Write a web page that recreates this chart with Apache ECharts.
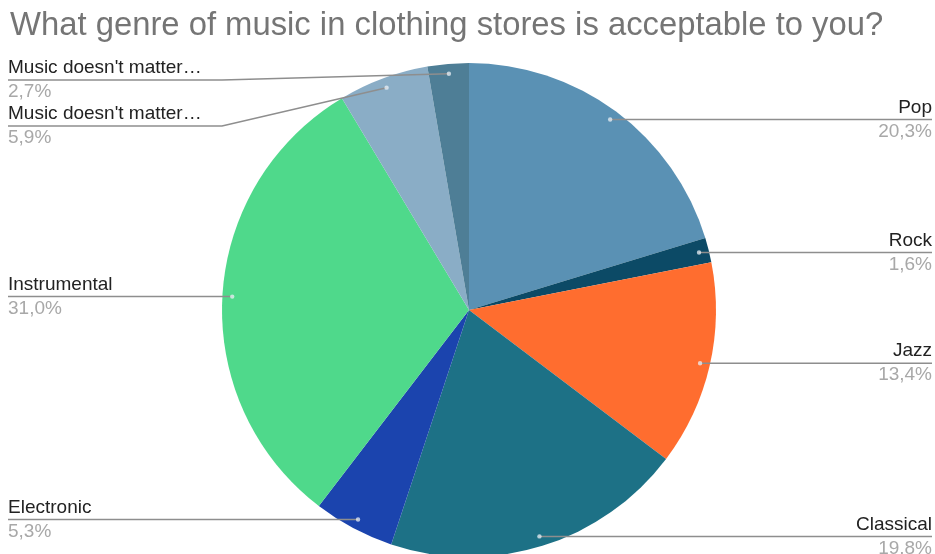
<!DOCTYPE html>
<html>
<head>
<meta charset="utf-8">
<script src="https://cdn.jsdelivr.net/npm/echarts@6/dist/echarts.min.js"></script>
<style>
  html, body { margin: 0; padding: 0; background: #fff; }
  #chart { width: 935px; height: 554px; }
</style>
</head>
<body>
<div id="chart"></div>
<script>
// Survey answers, in clockwise order from 12 o'clock
const genres = ['Pop', 'Rock', 'Jazz', 'Classical', 'Electronic', 'Instrumental', "Music doesn't matter…", "Music doesn't matter…"];
const shares = [20.3, 1.6, 13.4, 19.8, 5.3, 31.0, 5.9, 2.7];
const colors = ['#5a91b4', '#0c4a66', '#ff6d2f', '#1d7186', '#1b44ae', '#4fd98b', '#8aadc6', '#4e7e96'];

const FONT = '"Liberation Sans", Arial, sans-serif';
const chartEl = document.getElementById('chart');
const chart = echarts.init(chartEl, null, { renderer: 'canvas' });
const W = chart.getWidth();

// Pie geometry
const CX = 469, CY = 310, R = 247;
const DOT_K = 0.96;          // leader line starts just inside the slice rim
const EDGE_L = 8, EDGE_R = W - 3;
const BLOCK = 46;            // vertical room taken by one two-line label
const MIN_Y = 80;            // keep labels clear of the title

// Leader-line anchor for each slice, then push left-side labels apart
const total = shares.reduce((a, b) => a + b, 0);
let cum = 0;
const anchors = shares.map((v) => {
  const theta = (cum + v / 2) / total * 2 * Math.PI;
  cum += v;
  const x = CX + DOT_K * R * Math.sin(theta);
  const y = CY - DOT_K * R * Math.cos(theta);
  return { x, y, right: Math.sin(theta) >= 0, ly: y };
});
['left', 'right'].forEach((side) => {
  const idx = anchors.map((a, i) => i).filter((i) => (anchors[i].right ? 'right' : 'left') === side)
    .sort((a, b) => anchors[a].y - anchors[b].y);
  let prev = -Infinity;
  idx.forEach((i) => {
    const a = anchors[i];
    a.ly = Math.max(a.y, side === 'left' ? MIN_Y : -Infinity, prev + BLOCK);
    prev = a.ly;
  });
});

const option = {
  backgroundColor: '#ffffff',
  animation: false,
  title: {
    text: 'What genre of music in clothing stores is acceptable to you?',
    left: 5,
    top: 4,
    textStyle: { fontFamily: FONT, fontSize: 32.8, fontWeight: 'normal', color: '#757575' }
  },
  // small anchor dots where each leader line begins
  graphic: anchors.map((a) => ({
    type: 'circle',
    z: 100,
    silent: true,
    shape: { cx: a.x, cy: a.y, r: 2.2 },
    style: { fill: 'rgba(235,240,245,0.75)' }
  })),
  series: [
    // the slices
    {
      type: 'pie',
      z: 1,
      center: [CX, CY],
      radius: R,
      startAngle: 90,
      clockwise: true,
      data: genres.map((g, i) => ({ name: g, value: shares[i], itemStyle: { color: colors[i] } })),
      itemStyle: { borderWidth: 0 },
      label: { show: false },
      labelLine: { show: false },
      emphasis: { disabled: true },
      silent: true
    },
    // an invisible copy on top that carries the labels, so leader lines run over the slices
    {
      type: 'pie',
      z: 5,
      center: [CX, CY],
      radius: R,
      startAngle: 90,
      clockwise: true,
      avoidLabelOverlap: false,
      silent: true,
      data: genres.map((g, i) => ({ name: g, value: shares[i] })),
      itemStyle: { color: 'rgba(0,0,0,0)', borderWidth: 0 },
      label: {
        show: true,
        position: 'outside',
        formatter: (p) => '{n|' + p.name + '}\n{p|' + p.value.toFixed(1).replace('.', ',') + '%}',
        rich: {
          n: { fontFamily: FONT, fontSize: 19, color: '#222222', lineHeight: 24 },
          p: { fontFamily: FONT, fontSize: 19, color: '#a8a8a8', lineHeight: 24 }
        }
      },
      labelLine: {
        show: true,
        smooth: false,
        lineStyle: { color: '#8e8e8e', width: 1.5 }
      },
      labelLayout: (params) => {
        const a = anchors[params.dataIndex];
        const edge = a.right ? EDGE_R : EDGE_L;
        const bendX = a.right ? CX + R : CX - R;
        const mid = Math.abs(a.ly - a.y) > 0.5 ? [bendX, a.ly] : [(a.x + edge) / 2, a.ly];
        return {
          x: edge,
          y: a.ly,
          align: a.right ? 'right' : 'left',
          verticalAlign: 'middle',
          hideOverlap: false,
          labelLinePoints: [[a.x, a.y], mid, [edge, a.ly]]
        };
      },
      emphasis: { disabled: true }
    }
  ]
};

chart.setOption(option);
</script>
</body>
</html>
